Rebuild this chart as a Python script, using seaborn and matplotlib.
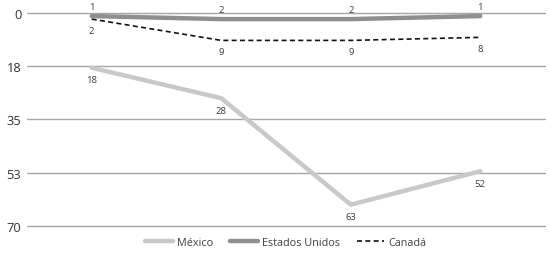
import pandas as pd
import matplotlib
matplotlib.use("Agg")
import matplotlib.pyplot as plt
import seaborn as sns

periodos = ["P1", "P2", "P3", "P4"]
mexico = [18, 28, 63, 52]
estados_unidos = [1, 2, 2, 1]
canada = [2, 9, 9, 8]

y_ticks = [0, 17.5, 35, 52.5, 70]
y_labels = ["0", "18", "35", "53", "70"]

sns.set_theme(style="white")
plt.rcParams['font.family'] = ['Open Sans', 'DejaVu Sans']

fig = plt.figure(figsize=(5.5, 2.55), dpi=100)
ax = fig.add_axes([0.049, 0.110, 0.942, 0.835])

series = [
    ("México", mexico, "#c8c8c8", 3.2, "-", 12),
    ("Estados Unidos", estados_unidos, "#8e8e8e", 3.2, "-", -10),
    ("Canadá", canada, "#111111", 1.2, (0, (3, 2)), 11),
]

for nombre, valores, color, lw, ls, off in series:
    df = pd.DataFrame({"periodo": periodos, "valor": valores})
    sns.lineplot(data=df, x="periodo", y="valor", color=color, linewidth=lw,
                 linestyle=ls, ax=ax, label=nombre, sort=False)
    for i, v in enumerate(valores):
        ax.annotate(str(v), (i, v), textcoords="offset points",
                    xytext=(0, -off * 0.72), ha="center", va="center",
                    fontsize=6.8, color="#3a3a3a")

ax.set_xlim(-0.5, 3.5)
ax.set_ylim(70, 0)
ax.set_yticks(y_ticks)
ax.set_yticklabels(y_labels)
ax.set_xticks([])
ax.set_xlabel("")
ax.set_ylabel("")
ax.tick_params(axis="y", labelsize=9.3, colors="#333333", length=0, pad=4)
for s in ax.spines.values():
    s.set_visible(False)
for t in y_ticks:
    ax.axhline(t, color="#a6a6a6", linewidth=1, zorder=0, clip_on=False)

ax.legend(loc="center", bbox_to_anchor=(0.52, 0.047), bbox_transform=fig.transFigure,
          ncol=3, frameon=False, fontsize=7.8, handlelength=2.5, columnspacing=1.6,
          handletextpad=0.4, labelcolor="#404040")

fig.savefig("out.png", dpi=100)
